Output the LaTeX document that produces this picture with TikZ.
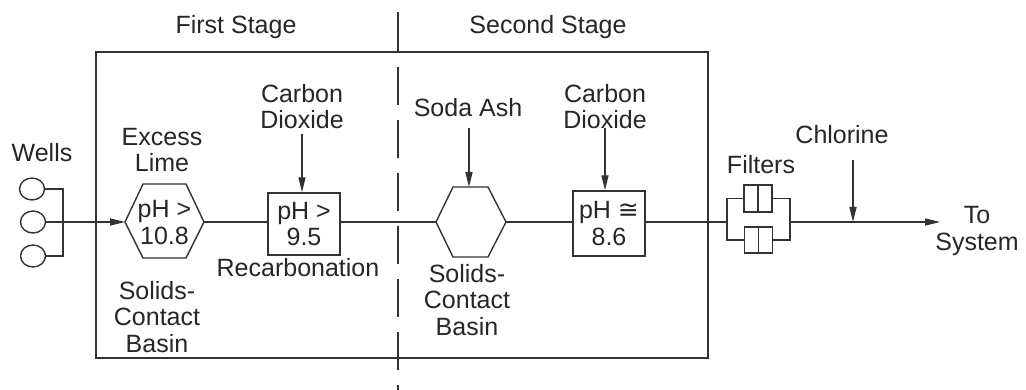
\documentclass[tikz,border=0pt]{standalone}
\usepackage{fontspec}
\setmainfont{Liberation Sans}
\newfontfamily\symfont{DejaVu Sans}
\usetikzlibrary{arrows.meta,shapes.geometric}
\tikzset{
  ln/.style={line width=1.4pt, draw=black!80},
  arr/.style={ln, -{Triangle[length=15pt,width=7pt]}},
  lbl/.style={font=\fontsize{25}{26.5}\selectfont, text=black!85, align=center, inner sep=0pt},
  pbox/.style={ln, lbl, inner sep=0pt},
  wellc/.style={ln, ellipse, minimum width=25pt, minimum height=22pt, inner sep=0pt},
  fbox/.style={ln, minimum width=28pt, minimum height=27pt, inner sep=0pt},
}
\begin{document}
\begin{tikzpicture}[x=1pt,y=-1pt]
\useasboundingbox (0,0) rectangle (1026,390);
% stage frame
\node[lbl] (st1) at (236,27) {First Stage};
\node[lbl] (st2) at (548,27) {Second Stage};
\draw[ln] (96,52) rectangle (708,358);
\draw[ln] (398,12) -- (398,52);
\draw[ln, dash pattern=on 38pt off 15pt, dash phase=38pt] (398,52) -- (398,390);
% wells
\node[lbl] (wells) at (42,153) {Wells};
\node[wellc] (w1) at (32,189) {};
\node[wellc] (w2) at (33,222) {};
\node[wellc] (w3) at (33,256) {};
\coordinate (wbus) at (63,222);
\draw[ln] (w1.east) -| (wbus) |- (w3.east);
% first solids-contact basin
\draw[ln] (125,222) -- (143,184) -- (186,184) -- (204,222) -- (186,258) -- (143,258) -- cycle;
\coordinate (h1w) at (125,222);
\coordinate (h1e) at (204,222);
\node[lbl] (h1t) at (164.5,222.5) {pH >\\10.8};
\draw[arr] (w2.east) -- (h1w);
\node[lbl] (lime) at (162,150) {Excess\\Lime};
\node[lbl] (scb1) at (157,317) {Solids-\\Contact\\Basin};
% recarbonation
\node[pbox, draw, minimum width=72pt, minimum height=62pt] (b1) at (304,224) {pH >\\9.5};
\node[lbl] (recarb) at (298,268) {Recarbonation};
\node[lbl] (co1) at (302,106.5) {Carbon\\Dioxide};
\coordinate (co1a) at (302,134);
\draw[arr] (co1a) -- (co1a |- b1.north);
\draw[ln] (h1e) -- (h1e -| b1.west);
% second solids-contact basin
\draw[ln] (436,222) -- (453,187) -- (488,187) -- (506,222) -- (488,257) -- (453,257) -- cycle;
\coordinate (h2w) at (436,222);
\coordinate (h2e) at (506,222);
\coordinate (h2n) at (469,187);
\draw[ln] (b1.east |- h2w) -- (h2w);
\node[lbl] (soda) at (468,108) {Soda Ash};
\coordinate (sodaa) at (469,128);
\draw[arr] (sodaa) -- (h2n);
\node[lbl] (scb2) at (467,300) {Solids-\\Contact\\Basin};
% second recarbonation
\node[pbox, draw, minimum width=72pt, minimum height=65pt] (b2) at (609,223.5) {pH {\symfont ≅}\\8.6};
\node[lbl] (co2) at (605,106.5) {Carbon\\Dioxide};
\coordinate (co2a) at (605,128);
\draw[arr] (co2a) -- (co2a |- b2.north);
\draw[ln] (h2e) -- (h2e -| b2.west);
% filters
\node[lbl] (filt) at (761,165) {Filters};
\node[fbox, draw] (f1) at (758,198.5) {};
\node[fbox, draw, minimum height=26pt] (f2) at (758.5,240) {};
\draw[ln] (f1.north) -- (f1.south);
\draw[ln] (f2.north) -- (f2.south);
\coordinate (fin) at (727,222);
\coordinate (fout) at (790,222);
\draw[ln] (b2.east |- fin) -- (fin);
\draw[ln] (f1.west) -| (fin) |- (f2.west);
\draw[ln] (f1.east) -| (fout) |- (f2.east);
% chlorine and system
\node[lbl] (chl) at (842,135) {Chlorine};
\coordinate (cla) at (853,160);
\coordinate (clb) at (853,222);
\draw[arr] (cla) -- (clb);
\node[lbl] (sys) at (977,231) {To\\System};
\coordinate (syse) at (940,222);
\draw[arr] (fout) -- (syse);
\end{tikzpicture}
\end{document}
